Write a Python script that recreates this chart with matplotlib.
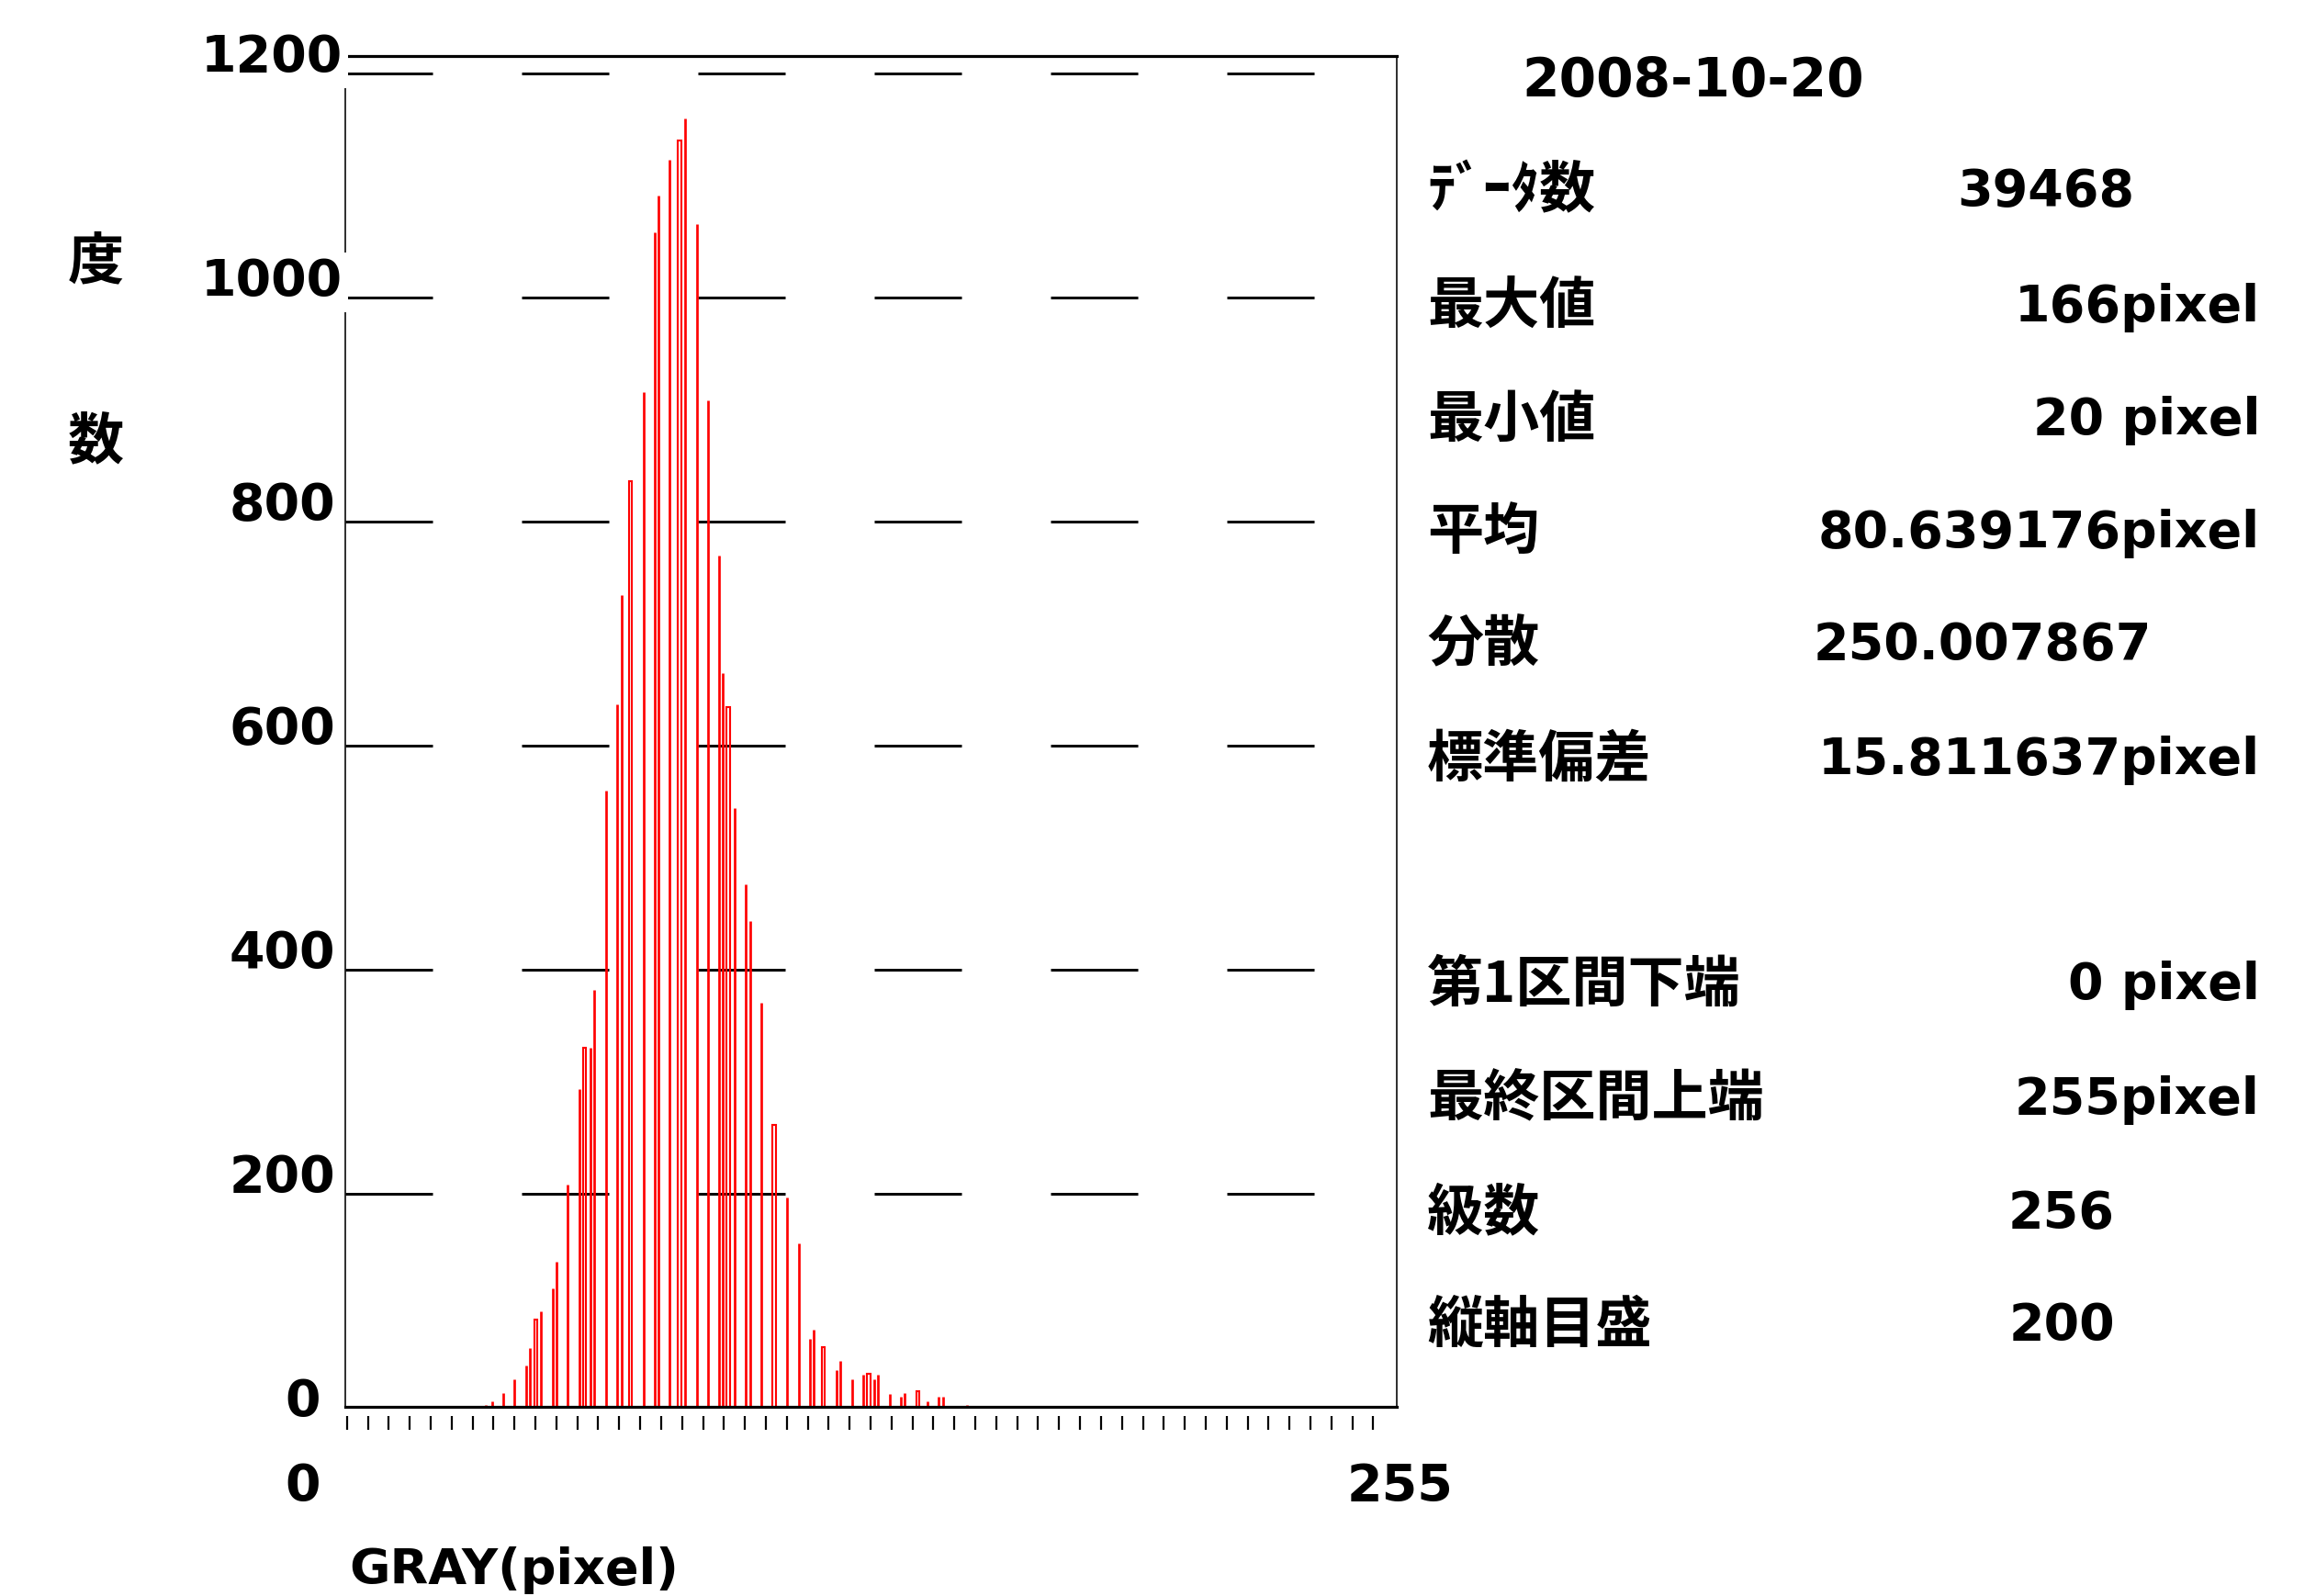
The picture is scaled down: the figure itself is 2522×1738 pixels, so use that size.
import matplotlib
matplotlib.use("Agg")
import matplotlib.pyplot as plt
from matplotlib.transforms import blended_transform_factory
from matplotlib.collections import LineCollection
import numpy as np

# ---------------- data ----------------
gray = [34.4, 35.9, 38.6, 41.3, 44.2, 45.1, 46.5, 47.8, 50.6, 51.5,
        54.3, 57.1, 58.4, 59.9, 60.8, 63.5, 66.3, 67.3, 69.5, 72.7,
        75.5, 76.4, 79.1, 81.5, 82.9, 85.7, 88.4, 91.2, 92.1, 93.4,
        94.8, 97.7, 98.6, 101.3, 104.5, 107.7, 110.5, 113.2, 114.2, 116.5,
        119.7, 120.7, 123.5, 126.2, 127.5, 129.0, 129.8, 132.7, 135.4, 136.3,
        139.5, 141.9, 144.6, 145.6, 151.5]
counts = [11, 14, 22, 34, 46, 62, 87, 95, 115, 139,
          208, 293, 330, 330, 382, 560, 637, 734, 836, 916,
          1058, 1091, 1123, 1140, 1160, 1066, 908, 770, 665, 634,
          544, 476, 443, 370, 261, 196, 155, 70, 78, 63,
          42, 50, 34, 38, 39, 34, 38, 21, 18, 22,
          23, 14, 18, 18, 11]
# bars that appear as full-width outlined rectangles
wide_gray = [46.5, 58.4, 69.5, 81.5, 93.4, 104.5, 116.5, 127.5, 139.5]

ytick_vals = [0, 200, 400, 600, 800, 1000, 1200]
ytick_labels = ["0", "200", "400", "600", "800", "1000", "1200"]
x_labels = ["0", "255"]
x_title = "GRAY(pixel)"
y_title = ["度", "数"]

date_text = "2008-10-20"
info_labels = ["ﾃﾞｰﾀ数", "最大値", "最小値", "平均", "分散", "標準偏差",
               "第1区間下端", "最終区間上端", "級数", "縦軸目盛"]
info_values = ["39468", "166pixel", "20 pixel", "80.639176pixel", "250.007867",
               "15.811637pixel", "0 pixel", "255pixel", "256", "200"]

# ---------------- figure ----------------
W, H, DPI = 2522, 1738, 100
PT = 72.0 / DPI
plt.rcParams["lines.scale_dashes"] = False
JP = ["Noto Sans CJK JP", "DejaVu Sans"]
LAT = ["DejaVu Sans", "Noto Sans CJK JP"]
WT = "bold"

fig = plt.figure(figsize=(W / DPI, H / DPI), dpi=DPI)
fig.patch.set_facecolor("white")


def fx(px):
    return px / W


def fy(py):
    return 1 - py / H


L, R, T, B = 375.5, 1520.5, 61.0, 1531.7
ax = fig.add_axes([fx(L), fy(B), (R - L) / W, (B - T) / H])
YMIN, YMAX = 9.6, 1215.8
ax.set_xlim(0, 256)
ax.set_ylim(YMIN, YMAX)
ax.set_xticks([])
ax.set_yticks([])

for s in ["top", "bottom"]:
    ax.spines[s].set_linewidth(3.2 * PT)
for s in ["left", "right"]:
    ax.spines[s].set_linewidth(1.6 * PT)
ax.spines["left"].set_bounds(YMIN, 1196)

# dashed horizontal grid, extending a little past the right frame
px_per_bin = (R - L) / 256.0
x_end = (1528 - L) / px_per_bin
ax.hlines(ytick_vals[1:], 0, x_end, colors="black", linewidth=3.0 * PT,
          linestyles=[(0, (95 * PT, 97 * PT))], clip_on=False, zorder=1.5)

# bars
single_x = [g for g in gray if g not in wide_gray]
single_y = [c for g, c in zip(gray, counts) if g not in wide_gray]
wide_y = [c for g, c in zip(gray, counts) if g in wide_gray]
ax.vlines(single_x, 0, single_y, colors="#ff0000", linewidth=2.7 * PT, zorder=2)
ax.bar(wide_gray, wide_y, width=0.8, fill=False, edgecolor="#ff0000",
       linewidth=2.1 * PT, zorder=2)

# bottom tick marks (detached below the axis line)
tick_x = np.linspace(0.5, 255.5, 51)[:-1]
ah = B - T
y0 = -(1541.7 - B) / ah
y1 = -(1556.7 - B) / ah
segs = [[(t, y0), (t, y1)] for t in tick_x]
lc = LineCollection(segs, colors="black", linewidths=2.2 * PT,
                    transform=blended_transform_factory(ax.transData, ax.transAxes),
                    clip_on=False)
ax.add_collection(lc, autolim=False)

# y tick labels
ytrans = blended_transform_factory(fig.transFigure, ax.transData)
for v, lab in zip(ytick_vals, ytick_labels):
    cx = {1: 330, 3: 307, 4: 296}[len(lab)]
    kw = {}
    if len(lab) == 4:
        kw["bbox"] = dict(facecolor="white", edgecolor="none", pad=4)
    ax.text(fx(cx), v + 1.5, lab, transform=ytrans, ha="center", va="baseline",
            fontsize=40, family=LAT, fontweight=WT, clip_on=False, zorder=5, **kw)

# y title
fig.text(fx(104.5), fy(286), y_title[0], ha="center", va="center",
         fontsize=44, family=JP, fontweight=WT)
fig.text(fx(104.5), fy(482), y_title[1], ha="center", va="center",
         fontsize=44, family=JP, fontweight=WT)

# x labels
fig.text(fx(330), fy(1619), x_labels[0], ha="center", va="center",
         fontsize=40, family=LAT, fontweight=WT)
fig.text(fx(1525), fy(1619), x_labels[1], ha="center", va="center",
         fontsize=40, family=LAT, fontweight=WT)
fig.text(fx(380), fy(1684), x_title, ha="left", va="top",
         fontsize=39, family=LAT, fontweight=WT)

# info panel
fig.text(fx(1657), fy(88), date_text, ha="left", va="center",
         fontsize=42, family=LAT, fontweight=WT)
row_y = [209, 334.5, 458, 580.6, 703, 828, 1073, 1198, 1322, 1444]
val_right = [2324, 2461, 2461, 2461, 2343, 2461, 2461, 2461, 2303, 2303]
for yy, lab, val, xr in zip(row_y, info_labels, info_values, val_right):
    fig.text(fx(1554), fy(yy), lab, ha="left", va="center",
             fontsize=44, family=JP, fontweight=WT)
    fig.text(fx(xr), fy(yy), val, ha="right", va="center",
             fontsize=40, family=LAT, fontweight=WT)

fig.savefig("out.png", dpi=DPI, facecolor="white")
